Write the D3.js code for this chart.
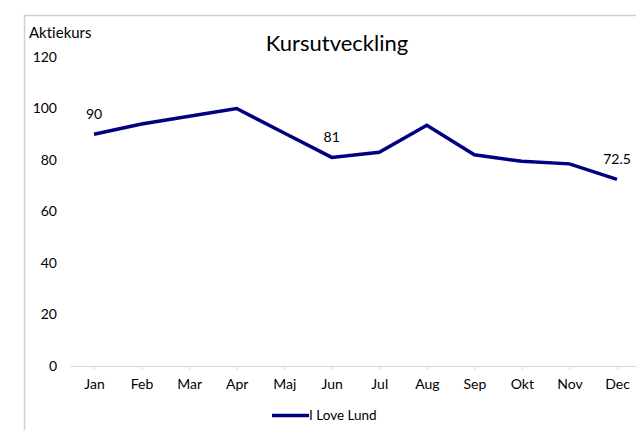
<!DOCTYPE html>
<html><head><meta charset="utf-8">
<script src="https://cdn.jsdelivr.net/npm/d3@7"></script>
<style>body{margin:0;background:#fff}svg{display:block}text{font-family:Lato,"Open Sans",sans-serif;fill:#000;font-variant-ligatures:none;font-feature-settings:"liga" 0}</style>
</head><body>
<svg id="c" width="636" height="430"></svg>
<script>
const months = ["Jan","Feb","Mar","Apr","Maj","Jun","Jul","Aug","Sep","Okt","Nov","Dec"];
const values = [90,94,97,100,90.5,81,83,93.5,82,79.5,78.5,72.5];
const labeled = {"Jan":"90","Jun":"81","Dec":"72.5"};
const yTicks = [0,20,40,60,80,100,120];
const seriesName = "I Love Lund";
const title = "Kursutveckling";
const yTitle = "Aktiekurs";

const svg = d3.select("#c");
const color = "#000080";
svg.append("rect").attr("x",24.5).attr("y",15.5).attr("width",700).attr("height",500)
  .attr("fill","none").attr("stroke","#cfcfcf").attr("stroke-width",1.5);

const x = d3.scalePoint().domain(months).range([94,617]);
const y = d3.scaleLinear().domain([0,120]).range([366,57]);

// x axis
const xa = svg.append("g").attr("transform","translate(0,366)");
xa.append("line").attr("x1",70).attr("x2",640).attr("y1",0.5).attr("y2",0.5).attr("stroke","#d9d9d9");
xa.call(d3.axisBottom(x).tickSize(4).tickPadding(9))
  .call(g=>g.select(".domain").remove())
  .call(g=>g.selectAll(".tick line").attr("stroke","#d9d9d9"))
  .call(g=>g.selectAll(".tick text").attr("font-size",14).attr("font-family","Lato,sans-serif").attr("fill","#000"));

// y axis labels
const ya = svg.append("g").attr("transform","translate(57,0)");
ya.call(d3.axisLeft(y).tickValues(yTicks).tickSize(0).tickPadding(0))
  .call(g=>g.select(".domain").remove())
  .call(g=>g.selectAll(".tick text").attr("font-size",14).attr("font-family","Lato,sans-serif").attr("fill","#000"));

svg.append("text").attr("x",29).attr("y",38).attr("font-size",15).text(yTitle);
svg.append("text").attr("x",337).attr("y",51).attr("text-anchor","middle").attr("font-size",22).text(title);

const line = d3.line().x((d,i)=>x(months[i])).y(d=>y(d));
svg.append("path").datum(values).attr("d",line).attr("fill","none")
  .attr("stroke",color).attr("stroke-width",3.5).attr("stroke-linejoin","miter");

months.forEach((m,i)=>{
  if(labeled[m]) svg.append("text").attr("x",x(m)).attr("y",y(values[i])-15)
    .attr("text-anchor","middle").attr("font-size",14).text(labeled[m]);
});

// legend
svg.append("line").attr("x1",272).attr("x2",309).attr("y1",415.5).attr("y2",415.5)
  .attr("stroke",color).attr("stroke-width",3.5);
svg.append("text").attr("x",309).attr("y",420).attr("font-size",13.5).text(seriesName);
</script>
</body></html>
